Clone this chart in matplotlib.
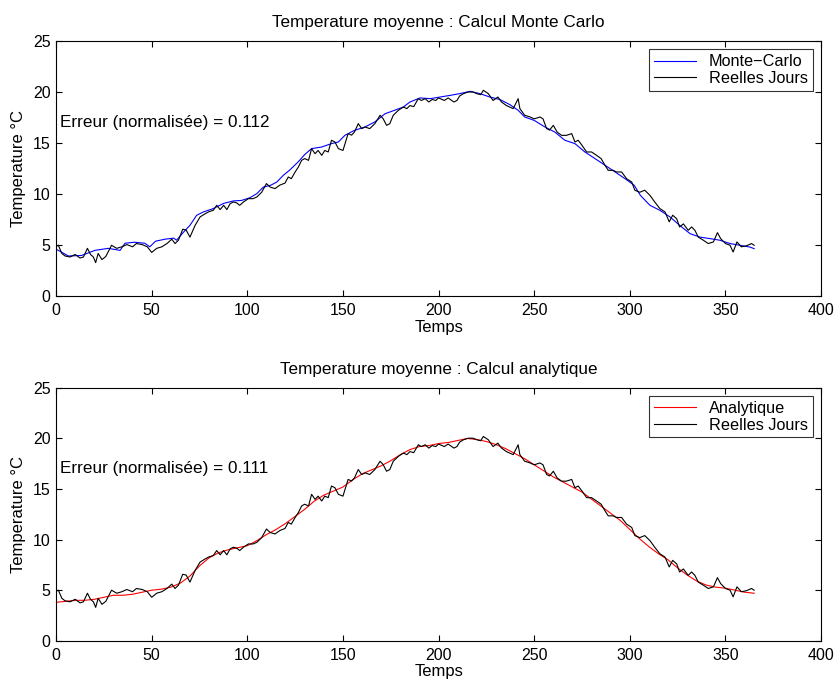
import matplotlib
matplotlib.use("Agg")
import matplotlib.pyplot as plt
import numpy as np

plt.rcParams['font.family'] = ['Liberation Sans', 'DejaVu Sans']

real_days = [0, 1.2, 3, 4.7, 7.3, 10, 12.5, 14.3, 16.4, 18, 19.5, 20.7, 22, 24, 26, 29,
             31.7, 34.4, 37, 40, 42, 45, 47.7, 50, 52.6, 55.3, 58, 60.5, 62.2, 64, 66.2,
             68, 70, 72.7, 75.3, 78, 80, 82.2, 84, 85.8, 87.6, 89.3, 91, 92.7, 94.5, 96,
             98, 100.5, 103, 105, 107.5, 110, 112, 114.5, 117, 119.7, 121.4, 123, 125,
             126.7, 128.4, 130, 132, 133.6, 135.4, 137, 138.9, 140.5, 142.3, 144, 145.8,
             147.6, 150, 152.7, 154.5, 156, 158, 159.8, 161.6, 164, 166.7, 169.4, 171,
             172.8, 174.5, 176.3, 179, 181.6, 183.4, 185, 187, 189.4, 191, 193, 194.9,
             196.7, 198.5, 200, 203, 205, 208, 209.6, 211, 213, 215.5, 218, 220, 222,
             223.4, 226, 228.5, 231, 232.9, 235.5, 239, 241.6, 242.5, 245, 247.6, 250,
             253, 254.6, 256.5, 258, 260, 262, 264.3, 266.8, 269.6, 271.3, 273, 275,
             277.4, 280, 282.6, 285, 287, 288.7, 291.3, 293, 295.7, 298.3, 301, 302.6,
             305.2, 307.8, 310.5, 313, 315.7, 318.4, 320.6, 322.4, 324.5, 326, 328,
             330.5, 332.3, 334, 335.8, 338.4, 341, 343.7, 345.8, 347.5, 350, 352.4, 354,
             356, 358.3, 361, 363.6, 365]
real_temp = [4.9, 5.0, 4.2, 3.95, 3.85, 4.1, 3.75, 3.85, 4.7, 4.1, 3.85, 3.3, 4.2, 3.6,
             3.9, 5.0, 4.7, 4.85, 5.07, 4.85, 5.17, 5.07, 4.85, 4.3, 4.7, 4.85, 5.17, 5.6,
             5.17, 5.5, 6.57, 6.5, 5.8, 6.96, 7.78, 8.1, 8.3, 8.43, 8.92, 8.5, 8.92, 8.5,
             9.08, 9.25, 9.15, 8.92, 9.25, 9.57, 9.57, 9.74, 10.2, 11.05, 10.7, 10.56,
             10.9, 11.1, 11.7, 11.53, 12.19, 12.68, 13.33, 13.5, 13.33, 14.48, 13.98,
             14.3, 13.82, 14.3, 14.15, 15.3, 15.13, 14.48, 14.3, 15.95, 15.8, 16.1, 16.93,
             16.44, 16.6, 16.44, 16.93, 17.75, 17.42, 16.76, 16.93, 17.75, 18.24, 18.56,
             18.4, 18.7, 18.6, 19.38, 19.2, 19.38, 19.05, 19.3, 19.2, 19.45, 19.2, 19.45,
             19.05, 19.2, 19.64, 19.87, 20.03, 20.03, 19.87, 19.77, 20.2, 19.87, 19.2,
             19.54, 19.05, 18.7, 18.4, 19.38, 18.4, 17.75, 17.6, 17.4, 17.58, 17.4, 16.44,
             16.3, 16.76, 16.1, 15.78, 15.78, 15.95, 15.13, 15.3, 14.8, 14.15, 14.15,
             13.82, 13.5, 12.85, 12.35, 12.35, 12.19, 12.19, 11.53, 11.2, 10.4, 10.2,
             10.4, 9.9, 9.25, 8.6, 8.27, 7.3, 7.95, 7.6, 6.8, 7.1, 6.47, 6.8, 6.47, 5.8,
             5.5, 5.17, 5.33, 6.24, 5.65, 5.17, 5.0, 4.34, 5.33, 4.85, 4.95, 5.17, 5.0]

# Monte Carlo estimate
mc_days = [0, 1.2, 6.4, 13.3, 20.3, 27.3, 33.5, 36, 41, 46.4, 49, 52, 57, 61.5, 63, 66.7,
           70, 73.5, 77, 82.2, 87.5, 92.7, 97, 101.4, 105, 108.3, 112, 115.4, 118.8, 122,
           126.7, 130, 133.6, 138.9, 144, 147.6, 151, 156, 161.5, 166.7, 172, 177, 181.6,
           185, 190.3, 195.6, 200.8, 206, 211, 216.5, 221.6, 226.8, 232, 237.2, 241.6,
           245, 250, 255.6, 260.8, 266, 271.3, 276.5, 281.8, 287, 292.3, 297.5, 302.3,
           305.5, 310.5, 315.7, 321, 326, 331.5, 336.7, 342, 347, 352.4, 357.5, 362.7, 365]
mc_temp = [4.6, 4.5, 3.95, 4.0, 4.5, 4.7, 4.5, 5.2, 5.3, 5.2, 4.85, 5.4, 5.6, 5.7, 5.5,
           6.3, 6.96, 7.94, 8.27, 8.6, 9.1, 9.35, 9.4, 9.67, 10.07, 10.7, 10.87, 11.2,
           11.86, 12.35, 13.2, 13.9, 14.48, 14.64, 14.97, 15.13, 15.78, 16.27, 16.6,
           17.1, 17.9, 18.24, 18.56, 19.05, 19.45, 19.38, 19.54, 19.7, 19.87, 20.1, 19.87,
           19.54, 19.3, 18.8, 18.24, 17.58, 17.25, 16.6, 16.1, 15.3, 14.97, 14.15, 13.5,
           12.85, 12.19, 11.53, 10.88, 9.9, 8.92, 8.43, 7.78, 6.96, 6.14, 5.8, 5.65, 5.5,
           5.17, 5.0, 4.83, 4.67]

# analytic estimate
an_days = [0, 5, 10, 15, 20, 25, 30, 35, 40, 45, 50, 55, 60, 65, 70, 75, 80, 85, 90, 95,
           100, 105, 110, 115, 120, 125, 130, 135, 140, 145, 150, 155, 160, 165, 170, 175,
           180, 185, 190, 195, 200, 205, 210, 215, 220, 225, 230, 235, 240, 245, 250, 255,
           260, 265, 270, 275, 280, 285, 290, 295, 300, 305, 310, 315, 320, 325, 330, 335,
           340, 345, 350, 355, 360, 365]
an_temp = [3.8, 3.9, 4.0, 4.0, 4.1, 4.3, 4.5, 4.5, 4.6, 4.8, 5.0, 5.1, 5.3, 5.7, 6.4, 7.4,
           8.2, 8.7, 9.0, 9.2, 9.4, 9.9, 10.5, 11.0, 11.6, 12.3, 13.0, 13.8, 14.4, 14.8,
           15.2, 15.9, 16.5, 16.9, 17.3, 17.8, 18.4, 18.9, 19.2, 19.3, 19.5, 19.6, 19.8,
           20.0, 19.9, 19.7, 19.4, 19.0, 18.5, 18.0, 17.4, 16.8, 16.2, 15.7, 15.2, 14.7,
           14.0, 13.3, 12.6, 11.9, 11.0, 10.1, 9.3, 8.6, 8.0, 7.2, 6.5, 5.9, 5.5, 5.3,
           5.2, 5.0, 4.8, 4.7]

panels = [
    ("Temperature moyenne : Calcul Monte Carlo", mc_days, mc_temp, "Monte\u2212Carlo", "blue", "0.112"),
    ("Temperature moyenne : Calcul analytique", an_days, an_temp, "Analytique", "red", "0.111"),
]
rects = [[0.067, 0.570, 0.914, 0.370], [0.067, 0.070, 0.914, 0.367]]

fig = plt.figure(figsize=(8.37, 6.89), dpi=100)
for (title, d, t, name, col, err), r in zip(panels, rects):
    ax = fig.add_axes(r)
    ax.plot(d, t, color=col, lw=0.8, label=name)
    ax.plot(real_days, real_temp, color="black", lw=0.8, label="Reelles Jours")
    ax.set_xlim(0, 400)
    ax.set_ylim(0, 25)
    ax.set_xticks(np.arange(0, 401, 50))
    ax.set_yticks(np.arange(0, 26, 5))
    ax.tick_params(direction="in", top=True, right=True, labelsize=11.5, length=4, pad=4)
    ax.tick_params(axis="x", pad=5)
    ax.set_xlabel("Temps", fontsize=12, labelpad=1)
    ax.set_ylabel("Temperature \u00b0C", fontsize=12, labelpad=5)
    ax.set_title(title, fontsize=12.3, pad=10)
    ax.text(2, 17, "Erreur (normalis\u00e9e) = " + err, fontsize=12.3, va="center")
    leg = ax.legend(loc="upper right", fontsize=11.7, frameon=True, fancybox=False,
                    edgecolor="black", handlelength=2.6, borderpad=0.3, labelspacing=0.1,
                    handletextpad=0.8, borderaxespad=0.5)
    leg.get_frame().set_linewidth(0.8)

fig.savefig("out.png", dpi=100)
